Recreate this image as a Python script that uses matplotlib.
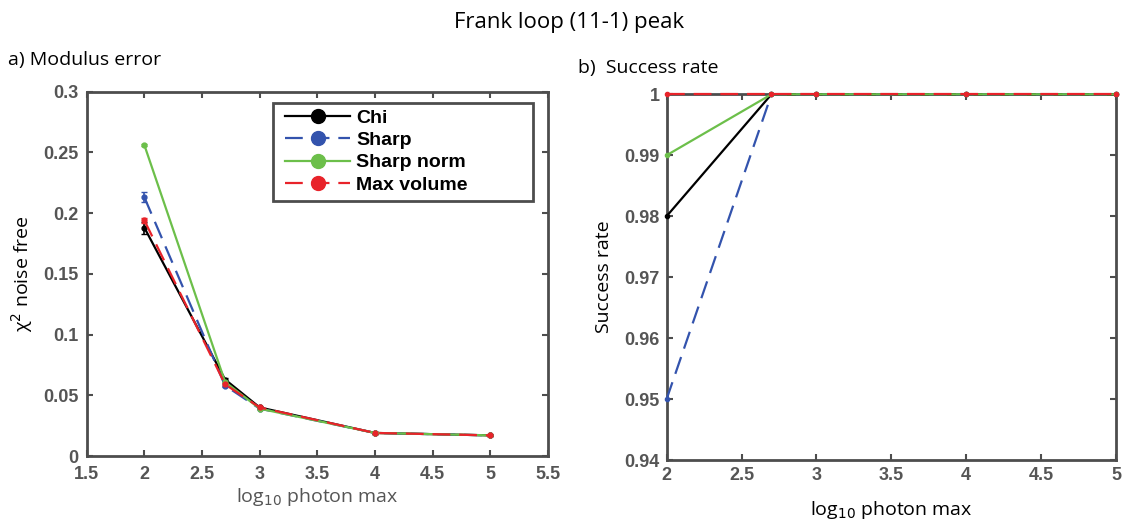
import numpy as np
import matplotlib
matplotlib.use('Agg')
import matplotlib.pyplot as plt
from matplotlib.lines import Line2D
from matplotlib.patches import Rectangle

# 데이터
x = [2, 2.7, 3, 4, 5]
names = ['Chi', 'Sharp', 'Sharp norm', 'Max volume']

err_chi = [0.188, 0.063, 0.040, 0.019, 0.017]
err_sharp = [0.213, 0.058, 0.039, 0.019, 0.017]
err_norm = [0.256, 0.061, 0.039, 0.019, 0.017]
err_maxv = [0.194, 0.059, 0.040, 0.019, 0.017]

sd_chi = [0.005, 0.001, 0.0005, 0.0005, 0.0005]
sd_sharp = [0.004, 0.001, 0.0005, 0.0005, 0.0005]
sd_norm = [0.001, 0.001, 0.0005, 0.0005, 0.0005]
sd_maxv = [0.002, 0.001, 0.0005, 0.0005, 0.0005]

rate_chi = [0.98, 1, 1, 1, 1]
rate_sharp = [0.95, 1, 1, 1, 1]
rate_norm = [0.99, 1, 1, 1, 1]
rate_maxv = [1, 1, 1, 1, 1]

colors = ['black', '#3353ad', '#6cbf4a', '#e8232a']
styles = ['-', (0, (8, 4)), '-', (0, (8, 4))]

plt.rcParams['font.family'] = ['Liberation Sans', 'DejaVu Sans']

fig = plt.figure(figsize=(11.38, 5.25), dpi=100)
ax1 = fig.add_axes([0.0762, 0.1314, 0.4053, 0.694])
ax2 = fig.add_axes([0.5858, 0.1238, 0.3949, 0.6966])

errs = [err_chi, err_sharp, err_norm, err_maxv]
sds = [sd_chi, sd_sharp, sd_norm, sd_maxv]
rates = [rate_chi, rate_sharp, rate_norm, rate_maxv]

for name, c, ls, y, s in zip(names, colors, styles, errs, sds):
    ax1.errorbar(x, y, yerr=s, color=c, linestyle=ls, lw=1.6, marker='o',
                 markersize=3.5, capsize=2.5, elinewidth=1.2)

for c, ls, y in zip(colors, styles, rates):
    ax2.plot(x, y, color=c, linestyle=ls, lw=1.6, marker='o', markersize=3,
             clip_on=False, zorder=5)

# 축 설정
ax1.set_xlim(1.5, 5.5)
ax1.set_ylim(0, 0.3)
ax1.set_xticks([1.5, 2, 2.5, 3, 3.5, 4, 4.5, 5, 5.5])
ax1.set_xticklabels(['1.5', '2', '2.5', '3', '3.5', '4', '4.5', '5', '5.5'])
ax1.set_yticks([0, 0.05, 0.1, 0.15, 0.2, 0.25, 0.3])
ax1.set_yticklabels(['0', '0.05', '0.1', '0.15', '0.2', '0.25', '0.3'])

ax2.set_xlim(2, 5)
ax2.set_ylim(0.94, 1)
ax2.set_xticks([2, 2.5, 3, 3.5, 4, 4.5, 5])
ax2.set_xticklabels(['2', '2.5', '3', '3.5', '4', '4.5', '5'])
ax2.set_yticks([0.94, 0.95, 0.96, 0.97, 0.98, 0.99, 1])
ax2.set_yticklabels(['0.94', '0.95', '0.96', '0.97', '0.98', '0.99', '1'])

for ax in (ax1, ax2):
    for sp in ax.spines.values():
        sp.set_color('#4d4d4d')
        sp.set_linewidth(2)
    ax.tick_params(direction='in', top=True, right=True, length=4, width=1.5,
                   color='#4d4d4d', labelsize=13, labelcolor='#555555', pad=5)
    for lab in ax.get_xticklabels() + ax.get_yticklabels():
        lab.set_fontweight('bold')
ax1.tick_params(axis='x', pad=7)
ax1.tick_params(axis='y', pad=6)

# 범례 (MATLAB 스타일 박스)
handles = [Line2D([0], [0], color=c, linestyle=ls, lw=1.6, marker='o', markersize=10)
           for c, ls in zip(colors, styles)]
ax1.legend(handles, names, loc='upper left', bbox_to_anchor=(0.395, 0.998),
           prop={'weight': 'bold', 'size': 14}, handlelength=3.3,
           labelspacing=0.25, borderpad=0.35, handletextpad=0.35,
           frameon=False)
ax1.add_patch(Rectangle((0.404, 0.701), 0.5635, 0.269, transform=ax1.transAxes,
                        facecolor='none', edgecolor='#4d4d4d', lw=2, zorder=6))

ax1.set_ylabel('χ$^2$ noise free', fontsize=14, family='Open Sans', labelpad=6)
ax1.set_xlabel('log$_{10}$ photon max', fontsize=14, family='Open Sans',
               color='#555555', labelpad=2)
ax2.set_ylabel('Success rate', fontsize=14, family='Open Sans', labelpad=8)
ax2.set_xlabel('log$_{10}$ photon max', fontsize=14, family='Open Sans', labelpad=11)

fig.text(0.5, 0.958, 'Frank loop (11-1) peak', ha='center', va='center',
         fontsize=16, family='Open Sans')
fig.text(0.007, 0.885, 'a) Modulus error', ha='left', va='center',
         fontsize=14, family='Open Sans')
fig.text(0.508, 0.87, 'b)  Success rate', ha='left', va='center',
         fontsize=14, family='Open Sans')

fig.savefig('out.png', dpi=100)
